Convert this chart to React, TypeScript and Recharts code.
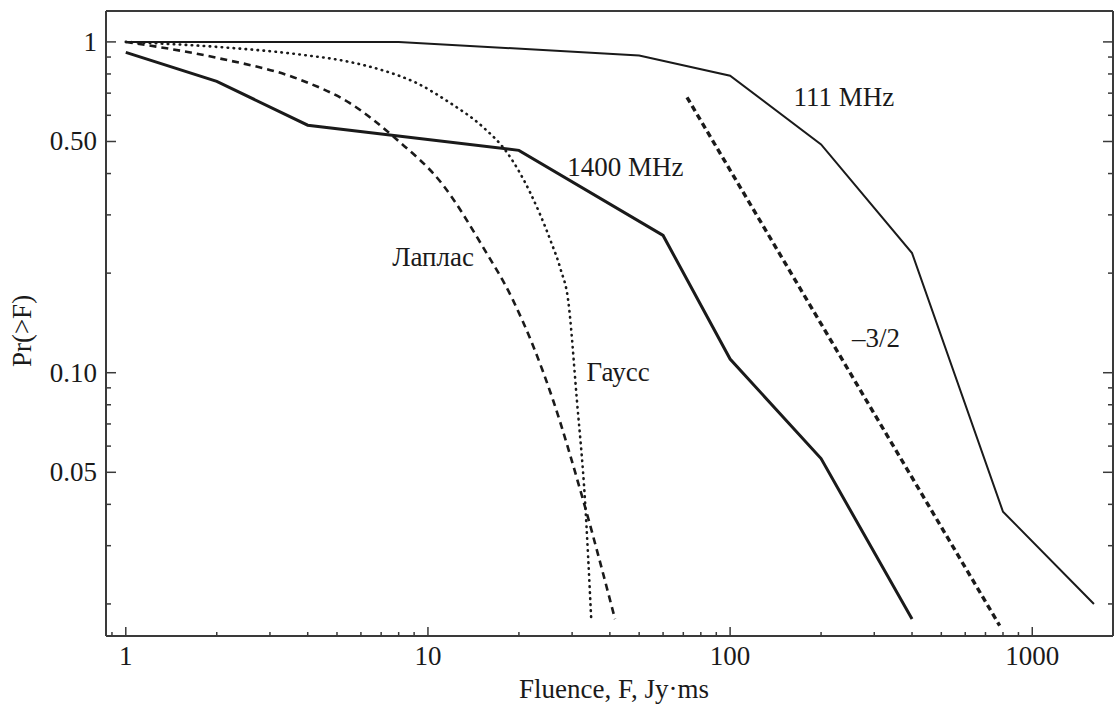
import React from "react"
import { ComposedChart, Line, XAxis, YAxis, ReferenceDot, Label } from "recharts"

// fluence values (Jy·ms) and Pr(>F)
const fluence111 = [1, 8, 50, 100, 200, 400, 800, 1600]
const pr111 = [1.0, 1.0, 0.91, 0.79, 0.49, 0.23, 0.038, 0.02]

const fluence1400 = [1, 2, 4, 20, 60, 100, 200, 400]
const pr1400 = [0.93, 0.76, 0.56, 0.47, 0.26, 0.11, 0.055, 0.018]

const fluenceLaplace = [1, 2, 3.8, 5.5, 7.9, 11.2, 15.2, 19.1, 25.9, 32.6, 41.6]
const prLaplace = [1.0, 0.895, 0.767, 0.654, 0.506, 0.37, 0.24, 0.166, 0.083, 0.0413, 0.018]

const fluenceGauss = [1, 2, 3.8, 5.5, 7.1, 9.2, 11.8, 15.2, 18.3, 21.8, 25.4, 27.5, 29.1, 31.1, 33.1, 34.7]
const prGauss = [1.0, 0.966, 0.915, 0.87, 0.82, 0.75, 0.655, 0.553, 0.462, 0.35, 0.252, 0.205, 0.166, 0.083, 0.041, 0.018]

const fluenceSlope = [72, 780]
const prSlope = [0.68, 0.0172]

const majorX = [1, 10, 100, 1000]
const minorX = [0.9, 2, 3, 4, 5, 6, 7, 8, 9, 20, 30, 40, 50, 60, 70, 80, 90, 200, 300, 400, 500, 600, 700, 800, 900]
const majorY = [1, 0.5, 0.1, 0.05]
const minorY = [0.9, 0.8, 0.7, 0.6, 0.4, 0.3, 0.2, 0.09, 0.08, 0.07, 0.06, 0.04, 0.03, 0.02]
const yTickText: Record<string, string> = { "1": "1", "0.5": "0.50", "0.1": "0.10", "0.05": "0.05" }

const curveLabels = [
  { text: "111 MHz", f: 238, p: 0.682 },
  { text: "1400 MHz", f: 45, p: 0.419 },
  { text: "Лаплас", f: 10.4, p: 0.224 },
  { text: "Гаусс", f: 42.6, p: 0.1007 },
  { text: "–3/2", f: 304, p: 0.1276 },
]

const toPoints = (f: number[], p: number[]) => f.map((v, i) => ({ f: v, p: p[i] }))

const FONT = "Liberation Serif, Times New Roman, serif"
const FS = 27
const INK = "#1a1a1a"
const FRAME = "#3a3a3a"
const xTicks = [...majorX, ...minorX].sort((a, b) => a - b)
const yTicks = [...majorY, ...minorY].sort((a, b) => a - b)

function BottomTick(props: any) {
  const { x, y, payload } = props
  const major = majorX.includes(payload.value)
  return (
    <g>
      <line x1={x} x2={x} y1={y} y2={y - (major ? 9 : 4)} stroke={FRAME} strokeWidth={1.5} />
      {major && (
        <text x={x} y={y + 29} textAnchor="middle" fontSize={FS} fontFamily={FONT} fill={INK}>
          {payload.value}
        </text>
      )}
    </g>
  )
}

function TopTick(props: any) {
  const { x, y, payload } = props
  const major = majorX.includes(payload.value)
  return <line x1={x} x2={x} y1={y} y2={y + (major ? 9 : 4)} stroke={FRAME} strokeWidth={1.5} />
}

function LeftTick(props: any) {
  const { x, y, payload } = props
  const major = majorY.includes(payload.value)
  return (
    <g>
      <line x1={x} x2={x + (major ? 10 : 5)} y1={y} y2={y} stroke={FRAME} strokeWidth={1.5} />
      {major && (
        <text x={x - 9} y={y + 9} textAnchor="end" fontSize={FS} fontFamily={FONT} fill={INK}>
          {yTickText[String(payload.value)]}
        </text>
      )}
    </g>
  )
}

function RightTick(props: any) {
  const { x, y, payload } = props
  const major = majorY.includes(payload.value)
  return <line x1={x} x2={x - (major ? 10 : 5)} y1={y} y2={y} stroke={FRAME} strokeWidth={1.5} />
}

export default function App() {
  const frame = { stroke: FRAME, strokeWidth: 2 }
  return (
    <div style={{ position: "absolute", left: 0, top: 0, width: 1115, height: 706, background: "#fff" }}>
      <ComposedChart width={1115} height={706} margin={{ top: 1, right: 0, bottom: 0, left: 0 }}>
        <XAxis
          xAxisId="bottom"
          dataKey="f"
          type="number"
          scale="log"
          domain={[0.86, 1850]}
          allowDataOverflow
          ticks={xTicks}
          interval={0}
          height={70}
          tickSize={0}
          tickMargin={0}
          tickLine={false}
          axisLine={frame}
          tick={(p: any) => <BottomTick {...p} />}
        >
          <Label
            content={() => (
              <text x={614} y={698} textAnchor="middle" fontSize={FS} fontFamily={FONT} fill={INK}>
                Fluence, F, Jy·ms
              </text>
            )}
          />
        </XAxis>
        <XAxis
          xAxisId="top"
          orientation="top"
          type="number"
          scale="log"
          domain={[0.86, 1850]}
          allowDataOverflow
          ticks={xTicks}
          interval={0}
          height={10}
          tickSize={0}
          tickMargin={0}
          tickLine={false}
          axisLine={frame}
          tick={(p: any) => <TopTick {...p} />}
        />
        <YAxis
          yAxisId="left"
          dataKey="p"
          type="number"
          scale="log"
          domain={[0.016, 1.24]}
          allowDataOverflow
          ticks={yTicks}
          interval={0}
          width={106}
          tickSize={0}
          tickMargin={0}
          tickLine={false}
          axisLine={frame}
          tick={(p: any) => <LeftTick {...p} />}
        >
          <Label
            content={() => (
              <text
                x={22}
                y={331}
                transform="rotate(-90 22 331)"
                textAnchor="middle"
                dominantBaseline="central"
                fontSize={FS}
                fontFamily={FONT}
                fill={INK}
              >
                Pr(&gt;F)
              </text>
            )}
          />
        </YAxis>
        <YAxis
          yAxisId="right"
          orientation="right"
          type="number"
          scale="log"
          domain={[0.016, 1.24]}
          allowDataOverflow
          ticks={yTicks}
          interval={0}
          width={2}
          tickSize={0}
          tickMargin={0}
          tickLine={false}
          axisLine={frame}
          tick={(p: any) => <RightTick {...p} />}
        />

        <Line
          xAxisId="bottom"
          yAxisId="left"
          data={toPoints(fluence111, pr111)}
          dataKey="p"
          type="linear"
          stroke={INK}
          strokeWidth={2}
          dot={false}
          activeDot={false}
          isAnimationActive={false}
        />
        <Line
          xAxisId="bottom"
          yAxisId="left"
          data={toPoints(fluence1400, pr1400)}
          dataKey="p"
          type="linear"
          stroke={INK}
          strokeWidth={3}
          dot={false}
          activeDot={false}
          isAnimationActive={false}
        />
        <Line
          xAxisId="bottom"
          yAxisId="left"
          data={toPoints(fluenceLaplace, prLaplace)}
          dataKey="p"
          type="monotone"
          stroke={INK}
          strokeWidth={2.6}
          strokeDasharray="7 5"
          dot={false}
          activeDot={false}
          isAnimationActive={false}
        />
        <Line
          xAxisId="bottom"
          yAxisId="left"
          data={toPoints(fluenceGauss, prGauss)}
          dataKey="p"
          type="monotone"
          stroke={INK}
          strokeWidth={2.6}
          strokeDasharray="0.5 5.5"
          strokeLinecap="round"
          dot={false}
          activeDot={false}
          isAnimationActive={false}
        />
        <Line
          xAxisId="bottom"
          yAxisId="left"
          data={toPoints(fluenceSlope, prSlope)}
          dataKey="p"
          type="linear"
          stroke={INK}
          strokeWidth={3.4}
          strokeDasharray="6 4"
          dot={false}
          activeDot={false}
          isAnimationActive={false}
        />

        {curveLabels.map((c) => (
          <ReferenceDot
            key={c.text}
            xAxisId="bottom"
            yAxisId="left"
            x={c.f}
            y={c.p}
            r={0}
            fill="none"
            stroke="none"
            ifOverflow="visible"
            label={{ value: c.text, position: "center", fontSize: FS, fontFamily: FONT, fill: INK }}
          />
        ))}
      </ComposedChart>
    </div>
  )
}
